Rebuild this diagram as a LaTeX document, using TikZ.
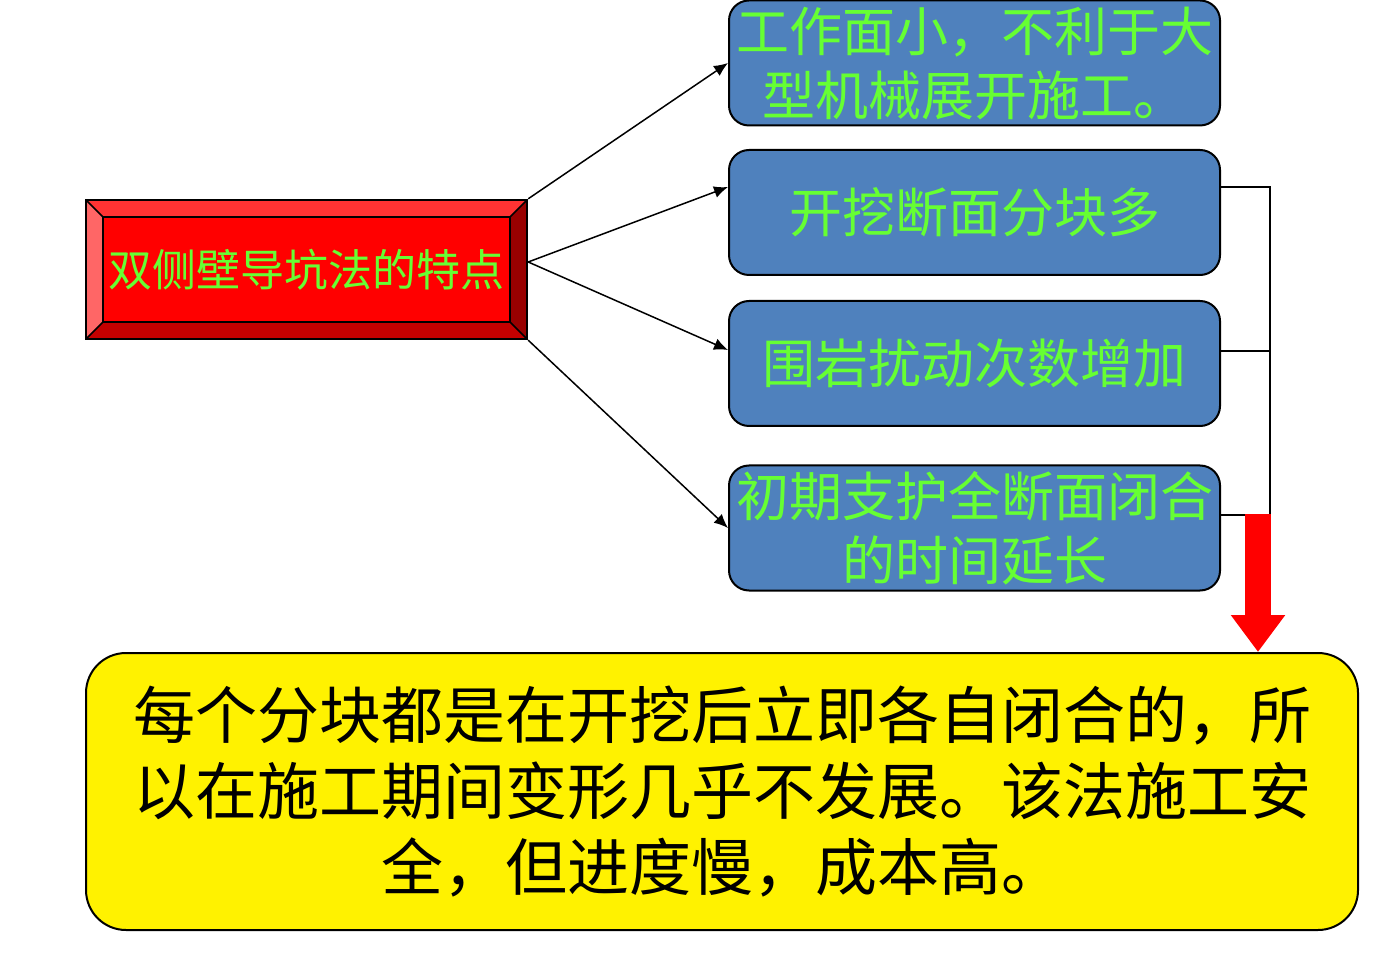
\documentclass[tikz,border=0pt]{standalone}
\usepackage{fontspec}
\setmainfont{Noto Sans CJK SC}
\usetikzlibrary{arrows.meta,calc}
\definecolor{boxblue}{RGB}{79,129,189}
\definecolor{txtgreen}{RGB}{102,255,51}
\definecolor{bevtop}{RGB}{255,51,51}
\definecolor{bevleft}{RGB}{255,102,102}
\definecolor{bevbot}{RGB}{196,0,0}
\definecolor{bevright}{RGB}{153,0,0}
\tikzset{
  bluebox/.style={draw=black, line width=1pt, fill=boxblue, rounded corners=10pt,
    minimum width=245.5pt, minimum height=62.5pt, inner sep=0pt, align=center,
    text=txtgreen, font=\fontsize{26.5pt}{32pt}\selectfont},
  conn/.style={line width=0.75pt, -{Latex[length=7pt,width=6pt]}},
  brk/.style={line width=1pt},
}
\begin{document}
\begin{tikzpicture}[x=0.5pt,y=-0.5pt]
\useasboundingbox (0,0) rectangle (1400,961);
% red bevelled box
\fill[bevtop] (86,200) -- (527,200) -- (510,217) -- (103,217) -- cycle;
\fill[bevleft] (86,200) -- (103,217) -- (103,322) -- (86,339) -- cycle;
\fill[bevbot] (86,339) -- (103,322) -- (510,322) -- (527,339) -- cycle;
\fill[bevright] (527,200) -- (527,339) -- (510,322) -- (510,217) -- cycle;
\draw[line width=0.8pt] (86,200) -- (103,217) (527,200) -- (510,217) (86,339) -- (103,322) (527,339) -- (510,322);
\node[draw=black, line width=1pt, fill=red, minimum width=203.5pt, minimum height=52.5pt, inner sep=0pt,
  text=txtgreen, font=\fontsize{22pt}{26pt}\selectfont] (mainin) at (306.5,269.5) {双侧壁导坑法的特点};
\node[draw=black, line width=1.2pt, minimum width=220.5pt, minimum height=69.5pt, inner sep=0pt] (main) at (306.5,269.5) {};
% blue boxes
\node[bluebox] (b1) at (974.5,63) {工作面小，不利于大\\型机械展开施工。};
\node[bluebox] (b2) at (974.5,212.5) {开挖断面分块多};
\node[bluebox] (b3) at (974.5,363.5) {围岩扰动次数增加};
\node[bluebox] (b4) at (974.5,528) {初期支护全断面闭合\\的时间延长};
% connectors
\coordinate (mo) at ($(main.east)+(0,-7.5)$);
\draw[conn] (main.north east) -- (b1.west);
\draw[conn] (mo) -- ($(b2.west)+(0,-25.5)$);
\draw[conn] (mo) -- ($(b3.west)+(0,-13.5)$);
\draw[conn] (main.south east) -- (b4.west);
% yellow box
\node[draw=black, line width=1pt, fill=yellow, rounded corners=20pt, minimum width=636pt, minimum height=138.5pt,
  inner sep=0pt, align=center, font=\fontsize{31pt}{38pt}\selectfont] (y) at (722,791.5)
  {\raisebox{-2pt}{\parbox{620pt}{\centering 每个分块都是在开挖后立即各自闭合的，所\\以在施工期间变形几乎不发展。该法施工安\\全，但进度慢，成本高。}}};
% bracket
\coordinate (k1) at (1270,187);
\coordinate (k3) at (1270,515);
\draw[brk] ($(b2.east)+(0,-25.5)$) -- (k1) -- (k3) -- ($(b4.east)+(0,-13)$);
\draw[brk] ($(b3.east)+(0,-12.5)$) -- (1270,351);
% red arrow
\coordinate (ra) at (1258,514);
\draw[red, line width=13pt, -{Triangle[length=18.5pt,width=26pt]}] (ra) -- (y.north -| ra);
\end{tikzpicture}
\end{document}
